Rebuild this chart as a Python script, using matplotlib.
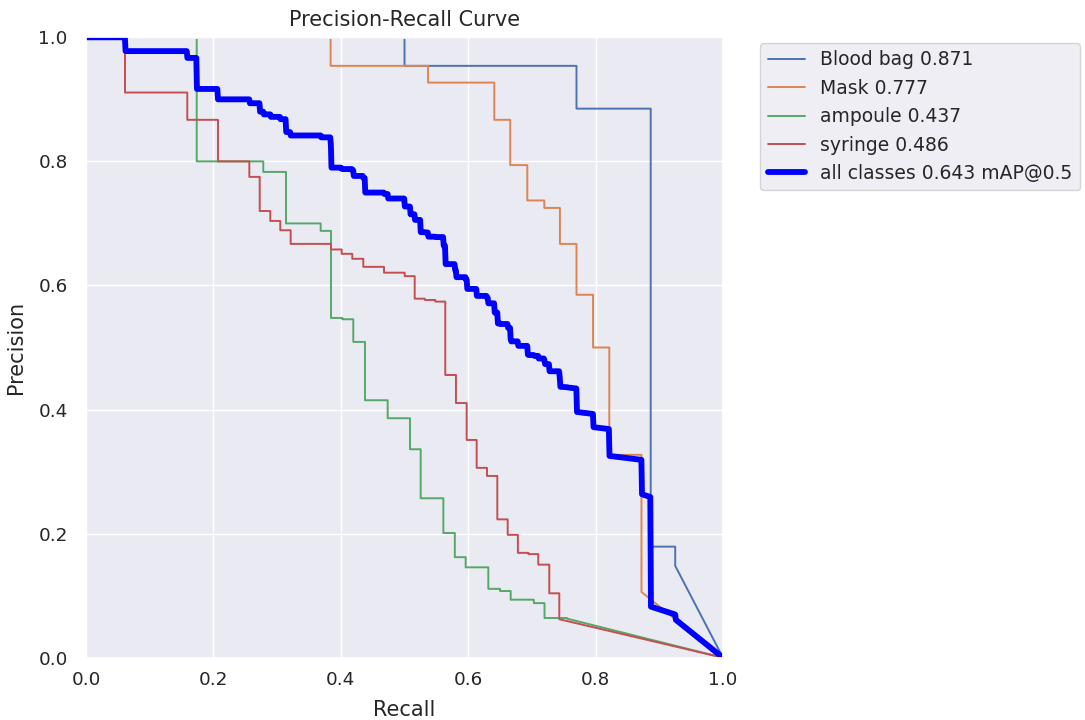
import numpy as np
import matplotlib
matplotlib.use("Agg")
import matplotlib.pyplot as plt
from matplotlib.transforms import Bbox, TransformedBbox
import seaborn as sns

# ---- data (recall where precision steps down, and precision levels) ----
class_names = ["Blood bag", "Mask", "ampoule", "syringe"]
class_ap = [0.871, 0.777, 0.437, 0.486]
map50 = 0.643

blood_breaks = [0.500, 0.770, 0.8865, 0.925]
blood_levels = [1.0, 0.954, 0.885, 0.179, 0.148]

mask_breaks = [0.384, 0.537, 0.641, 0.666, 0.6928, 0.7195, 0.744, 0.770, 0.796, 0.8215, 0.872]
mask_levels = [1.0, 0.954, 0.927, 0.867, 0.794, 0.737, 0.725, 0.667, 0.585, 0.500, 0.327, 0.106]

ampoule_breaks = [0.1738, 0.2783, 0.314, 0.3684, 0.3846, 0.4024, 0.4196, 0.438, 0.4736,
                  0.5086, 0.5254, 0.561, 0.579, 0.596, 0.6316, 0.650, 0.6667, 0.703,
                  0.7198, 0.755]
ampoule_levels = [1.0, 0.800, 0.783, 0.700, 0.688, 0.5476, 0.5455, 0.509, 0.415, 0.386,
                  0.336, 0.257, 0.201, 0.162, 0.1457, 0.111, 0.1075, 0.0935, 0.088,
                  0.064, 0.063]

syringe_breaks = [0.0612, 0.159, 0.2072, 0.2564, 0.2727, 0.2893, 0.305, 0.3213, 0.3846,
                  0.4014, 0.418, 0.4353, 0.4678, 0.5003, 0.516, 0.532, 0.5484, 0.564,
                  0.5808, 0.5976, 0.6133, 0.6295, 0.6457, 0.662, 0.678, 0.6944, 0.710,
                  0.7273, 0.743]
syringe_levels = [1.0, 0.911, 0.867, 0.800, 0.775, 0.720, 0.704, 0.689, 0.667, 0.658,
                  0.651, 0.643, 0.630, 0.6206, 0.615, 0.5787, 0.5766, 0.574, 0.4557,
                  0.4105, 0.351, 0.306, 0.293, 0.223, 0.198, 0.169, 0.167, 0.150,
                  0.1038, 0.062]

class_breaks = [blood_breaks, mask_breaks, ampoule_breaks, syringe_breaks]
class_levels = [blood_levels, mask_levels, ampoule_levels, syringe_levels]
class_colors = ["#4C72B0", "#DD8452", "#55A868", "#C44E52"]


def make_curve(breaks, levels):
    rx, ry = [0.0], [levels[0]]
    for b, lp, ln in zip(breaks, levels[:-1], levels[1:]):
        rx += [b, b + 1e-7]
        ry += [lp, ln]
    rx.append(1.0)
    ry.append(0.0)
    return np.array(rx), np.array(ry)


sns.set_theme(style="darkgrid")
plt.rcParams["font.family"] = ["DejaVu Sans"]

fig = plt.figure(figsize=(10.85, 7.2), dpi=100)
ax = fig.add_axes([86 / 1085, 1 - 657.7 / 720, (723 - 86) / 1085, (657.7 - 37.3) / 720])

# clip thin lines just below the top edge (as in the reference the 1.0 segments are hidden)
clip = TransformedBbox(Bbox([[-0.01, -0.01], [1.01, 1 - 1.6 / 620]]), ax.transAxes)

px = np.linspace(0, 1, 1000)
dense = []
for name, ap, br, lv, col in zip(class_names, class_ap, class_breaks, class_levels, class_colors):
    rx, ry = make_curve(br, lv)
    ln, = ax.plot(rx, ry, color=col, linewidth=1.4, label=f"{name} {ap:.3f}")
    ln.set_clip_box(clip)
    dense.append(np.interp(px, rx, ry))

mean_curve = np.mean(dense, axis=0)
ax.plot(px, mean_curve, color="blue", linewidth=4.2, label=f"all classes {map50:.3f} mAP@0.5")

ax.set_xlim(0, 1)
ax.set_ylim(0, 1)
ax.set_xticks([0.0, 0.2, 0.4, 0.6, 0.8, 1.0])
ax.set_yticks([0.0, 0.2, 0.4, 0.6, 0.8, 1.0])
ax.tick_params(labelsize=13.2)
ax.tick_params(axis="y", pad=plt.rcParams["ytick.major.pad"] + 3.6)
ax.set_xlabel("Recall", fontsize=15, labelpad=8)
ax.set_ylabel("Precision", fontsize=15, labelpad=9)
ax.set_title("Precision-Recall Curve", fontsize=15, pad=8)
ax.legend(bbox_to_anchor=(1.05, 1.0), loc="upper left", fontsize=13.5, borderaxespad=0.3)

fig.savefig("out.png", dpi=100)
